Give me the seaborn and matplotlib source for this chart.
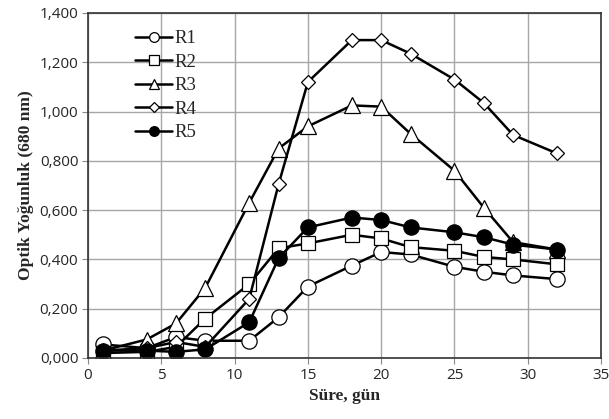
import seaborn as sns
import matplotlib.pyplot as plt
import pandas as pd

days = [1, 4, 6, 8, 11, 13, 15, 18, 20, 22, 25, 27, 29, 32]
r1 = [0.055, 0.040, 0.085, 0.070, 0.070, 0.165, 0.290, 0.375, 0.430, 0.420, 0.370, 0.350, 0.335, 0.320]
r2 = [0.020, 0.025, 0.045, 0.160, 0.300, 0.445, 0.465, 0.500, 0.485, 0.450, 0.435, 0.410, 0.400, 0.380]
r3 = [0.030, 0.075, 0.140, 0.285, 0.630, 0.850, 0.940, 1.025, 1.020, 0.910, 0.760, 0.610, 0.470, 0.440]
r4 = [0.030, 0.040, 0.065, 0.045, 0.240, 0.705, 1.120, 1.290, 1.290, 1.235, 1.130, 1.035, 0.905, 0.830]
r5 = [0.030, 0.030, 0.025, 0.035, 0.145, 0.405, 0.530, 0.570, 0.560, 0.530, 0.510, 0.490, 0.460, 0.440]

names = ["R1", "R2", "R3", "R4", "R5"]
series = [r1, r2, r3, r4, r5]
markers = ["o", "s", "^", "D", "o"]
sizes = [11, 10.5, 12, 7.5, 11]
faces = ["white", "white", "white", "white", "black"]

df = pd.DataFrame({
    "day": days * len(names),
    "od": sum(series, []),
    "run": [n for n in names for _ in days],
})

sns.set_style("whitegrid")
plt.rcParams["font.family"] = ["Open Sans", "DejaVu Sans"]

fig, ax = plt.subplots(figsize=(6.09, 4.19), dpi=100)
fig.subplots_adjust(left=0.1445, right=0.987, top=0.969, bottom=0.1456)

for name, m, ms, fc in zip(names, markers, sizes, faces):
    sns.lineplot(data=df[df["run"] == name], x="day", y="od", ax=ax,
                 color="black", linewidth=1.8, marker=m, markersize=ms,
                 markerfacecolor=fc, markeredgecolor="black", markeredgewidth=0.9,
                 label=name, sort=False)

ax.set_xlim(0, 35)
ax.set_ylim(0, 1.4)
ax.set_xticks(range(0, 36, 5))
yt = [i * 0.2 for i in range(8)]
ax.set_yticks(yt)
ax.set_yticklabels([f"{v:.3f}".replace(".", ",") for v in yt])
ax.tick_params(labelsize=11, length=4, color="#888888", direction="out",
               bottom=True, left=True, pad=3)
ax.grid(color="#a6a6a6", linewidth=1.0)
for side in ["left", "bottom", "top", "right"]:
    ax.spines[side].set_color("#333333")
    ax.spines[side].set_linewidth(1.2)

ax.set_xlabel("Süre, gün", family="Liberation Serif", fontweight="bold", fontsize=12.5)
ax.set_ylabel("Optik Yoğunluk (680 nm)", family="Liberation Serif", fontweight="bold", fontsize=12.5)

leg = ax.legend(loc="upper left", bbox_to_anchor=(0.074, 0.978), frameon=False,
                prop={"family": "Liberation Serif", "size": 13.5},
                handlelength=1.95, handletextpad=0.12, labelspacing=0.34, borderpad=0)
for h in leg.legend_handles:
    h.set_markersize(7 if h.get_marker() != "D" else 5.5)

plt.savefig("out.png", dpi=100)
